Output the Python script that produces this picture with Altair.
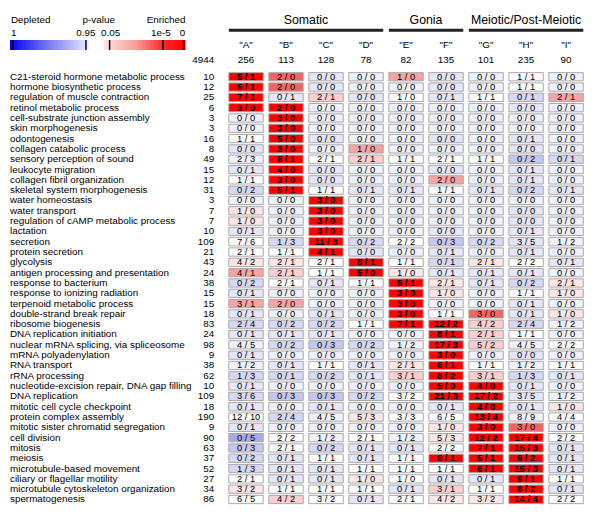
import altair as alt
import pandas as pd

FONT = "Liberation Sans, Arial, sans-serif"

columns = ["A", "B", "C", "D", "E", "F", "G", "H", "I"]
column_sizes = [256, 113, 128, 78, 82, 135, 101, 235, 90]
total_genes = 4944

group_names = ["Somatic", "Gonia", "Meiotic/Post-Meiotic"]
group_first = ["A", "E", "G"]
group_last = ["D", "F", "I"]

terms = [
    "C21-steroid hormone metabolic process", "hormone biosynthetic process",
    "regulation of muscle contraction", "retinol metabolic process",
    "cell-substrate junction assembly", "skin morphogenesis", "odontogenesis",
    "collagen catabolic process", "sensory perception of sound", "leukocyte migration",
    "collagen fibril organization", "skeletal system morphogenesis", "water homeostasis",
    "water transport", "regulation of cAMP metabolic process", "lactation", "secretion",
    "protein secretion", "glycolysis", "antigen processing and presentation",
    "response to bacterium", "response to ionizing radiation", "terpenoid metabolic process",
    "double-strand break repair", "ribosome biogenesis", "DNA replication initiation",
    "nuclear mRNA splicing, via spliceosome", "mRNA polyadenylation", "RNA transport",
    "rRNA processing", "nucleotide-excision repair, DNA gap filling", "DNA replication",
    "mitotic cell cycle checkpoint", "protein complex assembly",
    "mitotic sister chromatid segregation", "cell division", "mitosis", "meiosis",
    "microtubule-based movement", "ciliary or flagellar motility",
    "microtubule cytoskeleton organization", "spermatogenesis",
]
term_sizes = [10, 12, 25, 6, 3, 3, 16, 8, 49, 15, 12, 31, 3, 7, 7, 10, 109, 21, 43, 24,
              38, 15, 15, 18, 83, 24, 98, 9, 38, 62, 10, 109, 18, 190, 9, 90, 63, 37,
              52, 27, 34, 86]

# observed / expected per cell (columns A..I)
cell_counts = [
    "5/1 2/0 0/0 0/0 1/0 0/0 0/0 1/1 0/0",
    "5/1 2/0 0/0 0/0 0/0 0/0 0/0 1/1 0/0",
    "7/1 0/1 2/1 0/0 1/0 0/1 1/1 0/1 2/1",
    "3/0 2/0 0/0 0/0 0/0 0/0 0/0 0/0 0/0",
    "0/0 3/0 0/0 0/0 0/0 0/0 0/0 0/0 0/0",
    "0/0 3/0 0/0 0/0 0/0 0/0 0/0 0/0 0/0",
    "1/1 5/0 0/0 0/0 0/0 0/0 0/0 0/1 0/0",
    "0/0 3/0 0/0 1/0 0/0 0/0 0/0 0/0 0/0",
    "2/3 8/1 2/1 2/1 1/1 2/1 1/1 0/2 0/1",
    "0/1 4/0 0/0 0/0 0/0 0/0 0/0 0/1 0/0",
    "1/1 3/0 0/0 0/0 0/0 2/0 0/0 0/1 0/0",
    "0/2 5/1 1/1 0/1 0/1 1/1 0/1 0/2 0/1",
    "0/0 0/0 3/0 0/0 0/0 0/0 0/0 0/0 0/0",
    "1/0 0/0 3/0 0/0 0/0 0/0 0/0 0/0 0/0",
    "1/0 0/0 3/0 0/0 0/0 0/0 0/0 0/0 0/0",
    "0/1 0/0 3/0 0/0 0/0 0/0 0/0 0/1 0/0",
    "7/6 1/3 11/3 0/2 2/2 0/3 0/2 3/5 1/2",
    "2/1 1/1 4/1 0/0 0/0 0/1 0/0 0/1 0/0",
    "4/2 2/1 2/1 8/1 1/1 0/1 2/1 2/2 0/1",
    "4/1 2/1 1/1 5/0 1/0 0/1 0/1 0/1 0/0",
    "0/2 2/1 0/1 1/1 5/1 2/1 0/1 0/2 2/1",
    "0/1 0/0 0/0 0/0 3/0 1/0 0/0 1/1 1/0",
    "3/1 2/0 0/0 0/0 3/0 0/0 0/0 0/1 0/0",
    "0/1 0/0 0/1 0/0 3/0 1/1 3/0 0/1 1/0",
    "2/4 0/2 0/2 1/1 7/1 12/2 4/2 2/4 1/2",
    "0/1 0/1 0/1 0/0 0/0 8/1 2/1 1/1 0/0",
    "4/5 0/2 0/3 0/2 1/2 17/3 5/2 4/5 2/2",
    "0/1 0/0 0/0 0/0 0/0 3/0 0/0 0/0 0/0",
    "1/2 0/1 1/1 0/1 2/1 6/1 1/1 1/2 1/1",
    "1/3 0/1 0/2 0/1 3/1 8/2 3/1 1/3 0/1",
    "0/1 0/0 0/0 0/0 0/0 5/0 4/0 0/1 0/0",
    "3/6 0/3 0/3 0/2 3/2 21/3 17/2 3/5 1/2",
    "0/1 0/0 0/1 0/0 0/0 0/1 4/0 0/1 1/0",
    "12/10 2/4 4/5 5/3 3/3 6/5 13/4 8/9 4/4",
    "0/1 0/0 0/0 0/0 0/0 1/0 3/0 3/0 0/0",
    "0/5 2/2 1/2 2/1 1/2 5/3 12/2 17/4 2/2",
    "0/3 2/1 0/2 0/1 0/1 2/2 7/1 15/3 0/1",
    "0/2 0/1 1/1 0/1 1/1 6/1 5/1 9/2 0/1",
    "1/3 0/1 0/1 1/1 1/1 1/1 6/1 15/3 0/1",
    "2/1 0/1 0/1 1/0 1/0 0/1 0/1 9/1 1/1",
    "3/2 1/1 1/1 1/1 0/1 3/1 1/1 8/2 0/1",
    "6/5 4/2 3/2 0/1 2/1 4/2 3/2 14/4 2/2",
]

# colour class read from each cell (R strongest enrichment ... e strongest depletion)
cell_levels = [
    "Rrbapbawa", "Rrbaabawa", "Rbqbwbwcp", "RRaaaaaba", "aRaaaaaaa", "aRaaaaaaa",
    "wRbaababa", "bRapaaaba", "aRwqwwwdc", "bRbaababa", "wRbaapaba", "cRwbbwbcb",
    "aaRaaaaaa", "oaRaaaaba", "oaRaaaaba", "baRaababa", "wcRcwdcba", "wwRbababa",
    "oowRwcowb", "pqwRobbba", "cwbwRobco", "baaaRoawo", "ppaaRaaba", "babaRwrbo",
    "cccwRRqca", "bbbaaRqwa", "acdcaRqaw", "baaaaRaba", "abwboRwaw", "cccbqRqcb",
    "baaaaRRba", "cddcwRRba", "babaabRbo", "wcaowwRaw", "baaaaoRra", "ewawaoRRw",
    "dwcbbwRRb", "cbwbwRRRb", "cbbwwwRRb", "wbbowbbRw", "owwwbqwRb", "wqwbwooRw",
]

level_domain = list("Rrpqowabcde")
level_colors = ["#fe0000", "#f26464", "#f6a3a3", "#fbcfcf", "#fde6e6", "#ffffff",
                "#f1f1fb", "#e6e6f8", "#d8d8f4", "#c6c6f0", "#aaaaea"]

rows = []
for term, counts, levels in zip(terms, cell_counts, cell_levels):
    for col, cnt, lev in zip(columns, counts.split(), levels):
        o, e = cnt.split("/")
        rows.append({"term": term, "col": col, "label": f"{o} / {e}", "level": lev})
cells_df = pd.DataFrame(rows)
terms_df = pd.DataFrame({"term": terms, "size": term_sizes})
cols_df = pd.DataFrame({"col": columns, "letter": [f'"{c}"' for c in columns],
                        "size": column_sizes})
groups_df = pd.DataFrame({"name": group_names, "first": group_first, "last": group_last})

xscale = alt.Scale(domain=columns, paddingInner=0.14, paddingOuter=0.07)
yscale = alt.Scale(domain=terms, paddingInner=0.2, paddingOuter=0.1)

cells = alt.Chart(cells_df).mark_rect(stroke="#a8a8a8", strokeWidth=1, opacity=1).encode(
    x=alt.X("col:N", scale=xscale, axis=None),
    y=alt.Y("term:N", scale=yscale, axis=None),
    fill=alt.Fill("level:N", scale=alt.Scale(domain=level_domain, range=level_colors),
                  legend=None),
)

text_enc = dict(
    x=alt.X("col:N", scale=xscale, axis=None),
    y=alt.Y("term:N", scale=yscale, axis=None),
    text="label:N",
)
cell_text_bold = alt.Chart(cells_df).transform_filter("datum.level == 'R'").mark_text(
    fontSize=9.5, font=FONT, color="black", fontWeight="bold").encode(**text_enc)
cell_text_norm = alt.Chart(cells_df).transform_filter("datum.level != 'R'").mark_text(
    fontSize=9.5, font=FONT, color="black").encode(**text_enc)

term_text = alt.Chart(terms_df).mark_text(fontSize=10, font=FONT, align="left",
                                          color="black").encode(
    y=alt.Y("term:N", scale=yscale, axis=None),
    x=alt.value(-219),
    text="term:N",
)
size_text = alt.Chart(terms_df).mark_text(fontSize=10, font=FONT, align="right",
                                          color="black").encode(
    y=alt.Y("term:N", scale=yscale, axis=None),
    x=alt.value(-12),
    text="size:Q",
)

letters = alt.Chart(cols_df).mark_text(fontSize=10, font=FONT, color="black").encode(
    x=alt.X("col:N", scale=xscale, axis=None), y=alt.value(-27), text="letter:N")
col_counts = alt.Chart(cols_df).mark_text(fontSize=10, font=FONT, color="black").encode(
    x=alt.X("col:N", scale=xscale, axis=None), y=alt.value(-12), text="size:Q")
total_text = alt.Chart(pd.DataFrame({"t": [str(total_genes)]})).mark_text(
    fontSize=10, font=FONT, align="right", color="black").encode(
    x=alt.value(-12), y=alt.value(-12), text="t:N")

group_lines = alt.Chart(groups_df).mark_rule(strokeWidth=3, color="#222222").encode(
    x=alt.X("first:N", scale=xscale, bandPosition=0, axis=None),
    x2=alt.X2("last:N", bandPosition=1),
    y=alt.value(-42),
)
even_groups = groups_df[groups_df["name"] != "Meiotic/Post-Meiotic"].assign(
    anchor=["B", "E"])
odd_groups = groups_df[groups_df["name"] == "Meiotic/Post-Meiotic"].assign(anchor=["H"])
titles_even = alt.Chart(even_groups).mark_text(fontSize=12.5, font=FONT, dx=2.8,
                                               color="black").encode(
    x=alt.X("anchor:N", scale=xscale, bandPosition=1, axis=None), y=alt.value(-52),
    text="name:N")
titles_odd = alt.Chart(odd_groups).mark_text(fontSize=12.5, font=FONT,
                                             color="black").encode(
    x=alt.X("anchor:N", scale=xscale, axis=None), y=alt.value(-52), text="name:N")

# legend
one = pd.DataFrame({"k": [0]})
blue_grad = alt.LinearGradient(gradient="linear", x1=0, x2=1, y1=0, y2=0, stops=[
    alt.GradientStop(color="#0000f0", offset=0),
    alt.GradientStop(color="#7070f6", offset=0.45),
    alt.GradientStop(color="#ececfd", offset=1)])
red_grad = alt.LinearGradient(gradient="linear", x1=0, x2=1, y1=0, y2=0, stops=[
    alt.GradientStop(color="#fde4e4", offset=0),
    alt.GradientStop(color="#f99a9a", offset=0.4),
    alt.GradientStop(color="#ff2a2a", offset=0.72),
    alt.GradientStop(color="#ff0000", offset=1)])
blue_bar = alt.Chart(one).mark_rect(fill=blue_grad).encode(
    x=alt.value(-219), x2=alt.value(-139), y=alt.value(-32), y2=alt.value(-22))
red_bar = alt.Chart(one).mark_rect(fill=red_grad).encode(
    x=alt.value(-124), x2=alt.value(-41), y=alt.value(-32), y2=alt.value(-22))

legend_layers = [blue_bar, red_bar]
for tx in [-216, -142, -118, -64, -43]:
    legend_layers.append(alt.Chart(one).mark_rule(color="black", strokeWidth=1.5).encode(
        x=alt.value(tx), y=alt.value(-32), y2=alt.value(-22)))
legend_texts = [("Depleted", -218, -52, "left"), ("p-value", -129, -52, "center"),
                ("Enriched", -41, -52, "right"), ("1", -218, -39, "left"),
                ("0.95", -142, -39, "center"), ("0.05", -117, -39, "center"),
                ("1e-5", -66, -39, "center"), ("0", -44, -39, "center")]
for t, tx, ty, al in legend_texts:
    legend_layers.append(alt.Chart(pd.DataFrame({"t": [t]})).mark_text(
        fontSize=10, font=FONT, align=al, color="black").encode(
        x=alt.value(tx), y=alt.value(ty), text="t:N"))

chart = alt.layer(
    cells, cell_text_bold, cell_text_norm, term_text, size_text, letters, col_counts,
    total_text, group_lines, titles_even, titles_odd, *legend_layers
).properties(
    width=365, height=439,
    autosize=alt.AutoSizeParams(type="none"),
    padding={"left": 221, "top": 61, "right": 6, "bottom": 6},
).configure_view(strokeWidth=0)

chart.save("out.html", embed_options={"renderer": "svg", "actions": False})
